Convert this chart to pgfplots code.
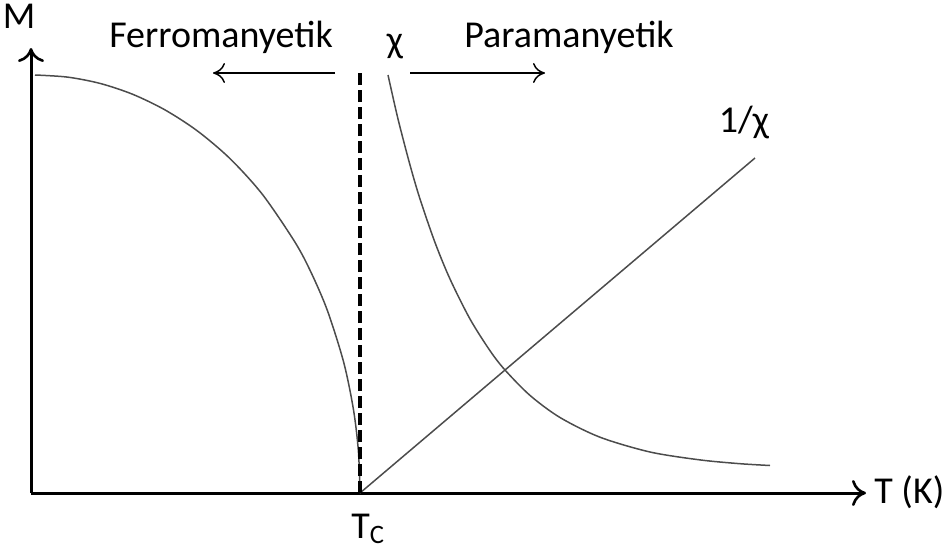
\documentclass[border=0pt]{standalone}
\usepackage{pgfplots}
\pgfplotsset{compat=1.18}
\usepackage{fontspec}
\setmainfont{Carlito}
\usetikzlibrary{arrows.meta}
\begin{document}
\begin{tikzpicture}
\begin{axis}[
  scale only axis, width=475pt, height=277pt,
  xmin=0, xmax=950, ymin=0, ymax=554,
  hide axis, clip=false,
]
\path (axis cs:0,0) rectangle (axis cs:950,554);
% axes
\draw[line width=1.5pt, -{To[length=7pt,width=13pt,line width=1.3pt]}] (axis cs:31,61) -- (axis cs:31,506);
\draw[line width=1.5pt, -{To[length=7pt,width=13pt,line width=1.3pt]}] (axis cs:31,61) -- (axis cs:866,61);
% magnetization
\addplot[color=black!70, line width=0.75pt, smooth] coordinates {
(35,479) (67.5,476.9) (100,470.6) (132.5,459.8) (165,444.1) (197.5,423) (230,395.4)
(262.5,359.5) (295,311.8) (311.25,281.2) (327.5,243.2) (343.75,191.5) (353.5,144.2) (358.4,102.8) (360,61)};
% susceptibility
\addplot[color=black!70, line width=0.75pt, smooth] coordinates {
(388,479) (395,447.8) (400,427) (410,389) (420,355) (435,311.5) (450,275) (470,235)
(490,203.3) (505,184) (530,158.6) (560,136.5) (600,116.8) (650,102) (700,94.1) (740,90.3) (770,88.5)};
% inverse susceptibility
\addplot[color=black!70, line width=0.75pt] coordinates {(360,61) (755,396)};
% Curie temperature
\addplot[black, line width=2pt, dash pattern=on 6pt off 2.5pt] coordinates {(360,61) (360,482)};
% labels
\draw[line width=0.75pt, -{To[length=6pt,width=10pt]}] (axis cs:335,481) -- (axis cs:213,481);
\draw[line width=0.75pt, -{To[length=6pt,width=10pt]}] (axis cs:410,481) -- (axis cs:545,481);
\node[anchor=base, font=\fontsize{19}{23}\selectfont, inner sep=0pt] at (axis cs:221,507) {Ferromanyetik};
\node[anchor=base, font=\fontsize{19}{23}\selectfont, inner sep=0pt] at (axis cs:569,507) {Paramanyetik};
\node[anchor=base, font=\fontsize{19}{23}\selectfont, inner sep=0pt] at (axis cs:395,502) {χ};
\node[anchor=base, font=\fontsize{19}{23}\selectfont, inner sep=0pt] at (axis cs:19,526) {M};
\node[anchor=base, font=\fontsize{19}{23}\selectfont, inner sep=0pt] at (axis cs:744,422) {1/χ};
\node[anchor=base west, font=\fontsize{19}{23}\selectfont, inner sep=0pt] at (axis cs:874,51) {T (K)};
\node[anchor=base west, font=\fontsize{19}{23}\selectfont, inner sep=0pt] at (axis cs:351,16) {T\textsubscript{C}};
\end{axis}
\end{tikzpicture}
\end{document}
